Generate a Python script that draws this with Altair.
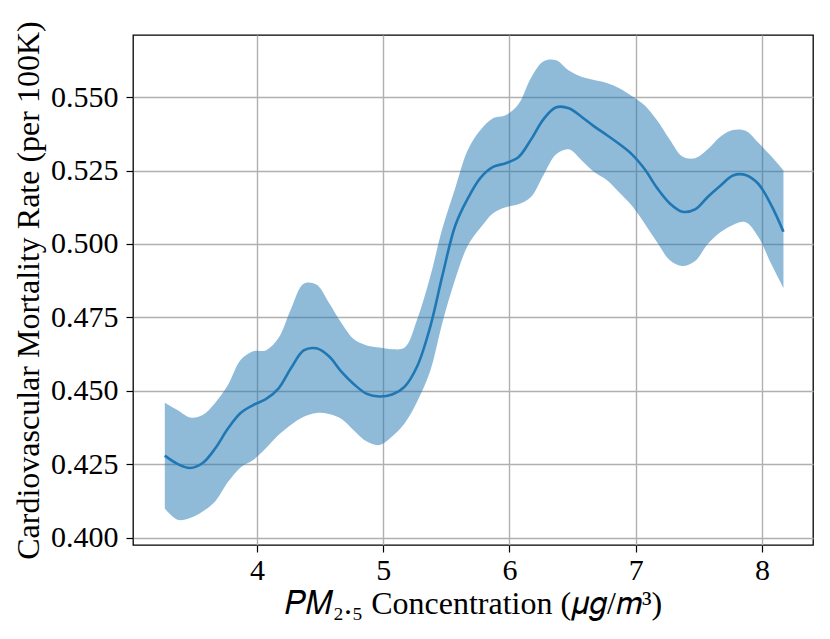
import altair as alt
import pandas as pd

pm25 = [3.27, 3.37, 3.47, 3.57, 3.67, 3.77, 3.87, 3.97, 4.07, 4.17,
        4.27, 4.37, 4.47, 4.57, 4.67, 4.77, 4.87, 4.97, 5.07, 5.17,
        5.27, 5.37, 5.47, 5.57, 5.67, 5.77, 5.87, 5.97, 6.07, 6.17,
        6.27, 6.37, 6.47, 6.57, 6.67, 6.77, 6.87, 6.97, 7.07, 7.17,
        7.27, 7.37, 7.47, 7.57, 7.67, 7.77, 7.87, 7.97, 8.07, 8.17]
mean_rate = [0.4280, 0.4252, 0.4238, 0.4255, 0.4305, 0.4372, 0.4425, 0.4452, 0.4472, 0.4508,
             0.4578, 0.4638, 0.4645, 0.4618, 0.4565, 0.4522, 0.4490, 0.4481, 0.4488, 0.4515,
             0.4585, 0.4715, 0.4895, 0.5062, 0.5155, 0.5225, 0.5262, 0.5275, 0.5295, 0.5355,
             0.5425, 0.5465, 0.5462, 0.5433, 0.5400, 0.5371, 0.5340, 0.5305, 0.5255, 0.5190,
             0.5138, 0.5110, 0.5118, 0.5160, 0.5198, 0.5233, 0.5235, 0.5205, 0.5135, 0.5042]
upper_rate = [0.4460, 0.4435, 0.4410, 0.4418, 0.4460, 0.4520, 0.4605, 0.4635, 0.4638, 0.4680,
              0.4780, 0.4865, 0.4862, 0.4800, 0.4730, 0.4675, 0.4655, 0.4648, 0.4642, 0.4648,
              0.4745, 0.4885, 0.5055, 0.5190, 0.5320, 0.5388, 0.5428, 0.5438, 0.5475, 0.5565,
              0.5622, 0.5625, 0.5590, 0.5569, 0.5558, 0.5548, 0.5530, 0.5503, 0.5472, 0.5420,
              0.5355, 0.5298, 0.5292, 0.5322, 0.5365, 0.5388, 0.5385, 0.5345, 0.5300, 0.5250]
lower_rate = [0.4100, 0.4062, 0.4068, 0.4090, 0.4125, 0.4190, 0.4240, 0.4265, 0.4305, 0.4350,
              0.4385, 0.4412, 0.4425, 0.4422, 0.4405, 0.4365, 0.4328, 0.4316, 0.4345, 0.4390,
              0.4465, 0.4565, 0.4735, 0.4880, 0.4995, 0.5055, 0.5105, 0.5125, 0.5135, 0.5160,
              0.5235, 0.5305, 0.5322, 0.5285, 0.5245, 0.5218, 0.5175, 0.5130, 0.5070, 0.5005,
              0.4945, 0.4925, 0.4942, 0.5000, 0.5040, 0.5065, 0.5074, 0.5025, 0.4935, 0.4850]

x_ticks = [4, 5, 6, 7, 8]
y_ticks = [0.400, 0.425, 0.450, 0.475, 0.500, 0.525, 0.550]

df = pd.DataFrame({"pm": pm25, "mean": mean_rate, "lo": lower_rate, "hi": upper_rate})

FONT = "Liberation Serif"
BLUE = "#1f77b4"

xs = alt.Scale(domain=[3.018, 8.404], nice=False, zero=False)
ys = alt.Scale(domain=[0.3976, 0.5711], nice=False, zero=False)

x_axis = alt.Axis(values=x_ticks, format="d", grid=True, gridColor="#b0b0b0", gridWidth=1.4,
                  domain=False, tickColor="black", tickSize=7, tickWidth=1.2,
                  labelFont=FONT, labelFontSize=30, labelColor="black", labelPadding=3,
                  title="𝑃𝑀₂.₅ Concentration (𝜇𝑔/𝑚³)", titleFont=FONT, titleFontSize=32,
                  titleFontWeight="normal", titleColor="black",
                  titleX=340, titleY=68, titleBaseline="alphabetic", titleAlign="center")
y_axis = alt.Axis(values=y_ticks, format=".3f", grid=True, gridColor="#b0b0b0", gridWidth=1.4,
                  domain=False, tickColor="black", tickSize=7, tickWidth=1.2,
                  labelFont=FONT, labelFontSize=30, labelColor="black", labelPadding=8,
                  title="Cardiovascular Mortality Rate (per 100K)", titleFont=FONT,
                  titleFontSize=32, titleFontWeight="normal", titleColor="black",
                  titleX=-95, titleY=255, titleAngle=-90, titleBaseline="alphabetic",
                  titleAlign="center")

band = alt.Chart(df).mark_area(color=BLUE, opacity=0.5, interpolate="catmull-rom").encode(
    x=alt.X("pm:Q", scale=xs, axis=x_axis),
    y=alt.Y("lo:Q", scale=ys, axis=y_axis),
    y2="hi:Q",
)
line = alt.Chart(df).mark_line(color=BLUE, strokeWidth=2.6, interpolate="catmull-rom").encode(
    x=alt.X("pm:Q", scale=xs),
    y=alt.Y("mean:Q", scale=ys),
)

chart = (band + line).properties(
    width=680, height=510, autosize="none",
    padding={"left": 125, "top": 27, "right": 8, "bottom": 86},
).configure(background="white").configure_view(stroke="black", strokeWidth=1.3)

chart.save("out.html", embed_options={"renderer": "svg", "actions": False})
